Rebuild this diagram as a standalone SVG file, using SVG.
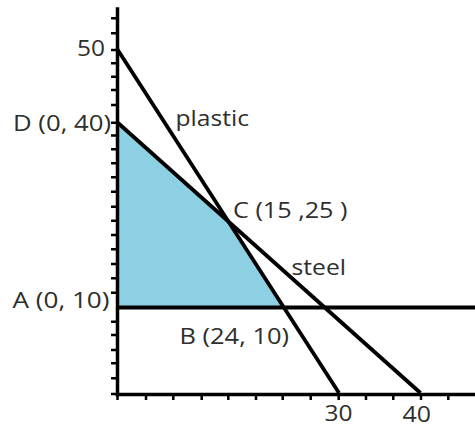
<svg xmlns="http://www.w3.org/2000/svg" width="475" height="428" viewBox="0 0 475 428">
<style>
.ax{stroke:#000;stroke-width:3.5;fill:none;stroke-linecap:square}
.tk{stroke:#000;stroke-width:2.5;fill:none}
.ln{stroke:#000;stroke-width:3.8;fill:none;stroke-linecap:butt}
.lb{font-family:"Open Sans","Liberation Sans",sans-serif;font-size:21px;fill:#2e2e2e}
</style>
<rect width="475" height="428" fill="#fff"/>
<g id="feasible-region">
<polygon points="117.5,122.7 228,221.7 283.5,307.5 117.5,307.5" fill="#8dcfe3"/>
</g>
<g id="axes">
<line class="ax" x1="117.5" y1="9" x2="117.5" y2="394.5"/>
<line class="ax" x1="117.5" y1="394.5" x2="475" y2="394.5"/>
<path class="tk" d="M111,18.3H117M111,33.3H117M111,50H117M111,63.3H117M111,76.7H117M111,90H117M111,105H117M111,122.7H117M111,135.5H117M111,149.3H117M111,163.3H117M111,177.3H117M111,191.7H117M111,206.7H117M111,220.7H117M111,235H117M111,249.3H117M111,264H117M111,278.3H117M111,292.7H117M111,321.7H117M111,335H117M111,350H117M111,363.3H117M111,378.3H117M111,394H117"/>
<path class="tk" d="M117.5,394V400M146,394V400M173.3,394V400M201.7,394V400M228.3,394V400M256,394V400M282.7,394V400M310.7,394V400M338.7,394V400M366,394V400M393.3,394V400M421,394V400M448.3,394V400"/>
</g>
<g id="connectors">
<line id="min-line" class="ln" x1="117.5" y1="307.5" x2="475" y2="307.5"/>
<line id="plastic-line" class="ln" x1="117.5" y1="49.5" x2="339" y2="393"/>
<line id="steel-line" class="ln" x1="117.5" y1="122.5" x2="420.5" y2="393"/>
</g>
<g id="labels">
<text class="lb" x="77" y="56" textLength="28" lengthAdjust="spacingAndGlyphs">50</text>
<text class="lb" x="13" y="131" textLength="98" lengthAdjust="spacingAndGlyphs">D (0, 40)</text>
<text class="lb" x="12.5" y="308" textLength="97" lengthAdjust="spacingAndGlyphs">A (0, 10)</text>
<text class="lb" x="175.5" y="126" textLength="73.5" lengthAdjust="spacingAndGlyphs">plastic</text>
<text class="lb" x="233" y="217.7" textLength="114.5" lengthAdjust="spacingAndGlyphs">C (15 ,25 )</text>
<text class="lb" x="291.5" y="275" textLength="54.5" lengthAdjust="spacingAndGlyphs">steel</text>
<text class="lb" x="179.5" y="344" textLength="109.5" lengthAdjust="spacingAndGlyphs">B (24, 10)</text>
<text class="lb" x="324.5" y="421" textLength="28" lengthAdjust="spacingAndGlyphs">30</text>
<text class="lb" x="402.5" y="422" textLength="28.5" lengthAdjust="spacingAndGlyphs">40</text>
</g>
</svg>
